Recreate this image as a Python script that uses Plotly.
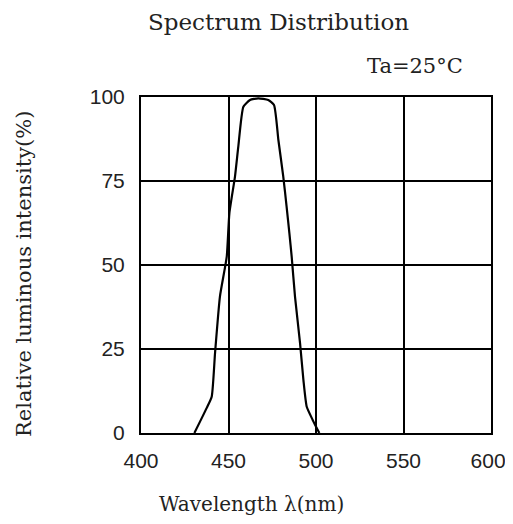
import plotly.graph_objects as go

wavelength = [430.5, 437.5, 440.4, 442.3, 445.1, 449.0, 450.5, 453.7, 455.6, 458.5,
              462.3, 467.0, 472.7, 476.0, 478.5, 481.3, 483.2, 484.8, 486.1, 488.0,
              490.9, 492.8, 494.7, 498.1, 501.9]
intensity = [0.0, 7.4, 10.8, 23.7, 40.6, 52.5, 65.4, 76.3, 85.2, 97.1,
             99.1, 99.6, 99.1, 97.6, 87.2, 76.3, 67.4, 59.4, 52.5, 40.6,
             26.7, 15.8, 7.8, 3.9, 0.0]
x_ticks = [400, 450, 500, 550, 600]
# last label padded so it stays inside the visible page edge
x_tick_labels = ["400", "450", "500", "550", "600\u00a0"]
y_ticks = [0, 25, 50, 75, 100]
y_tick_labels = ["0", "25", "50", "75", "100"]

# page body has an 8px margin
OFF = 8
W, H = 513 - OFF, 524 - 2 * OFF
L, R, T, B = 141 - OFF, 491 - OFF, 97 - OFF, 433 - OFF

fig = go.Figure()
fig.add_trace(go.Scatter(x=wavelength, y=intensity, mode="lines",
                         line=dict(color="black", width=2.2, shape="spline", smoothing=0.5),
                         showlegend=False, hoverinfo="skip"))

tickfont = dict(family="Liberation Sans", size=21, color="#222")
serif = "DejaVu Serif"
fig.update_layout(
    width=W, height=H,
    margin=dict(l=L, r=W - R, t=T, b=H - B, autoexpand=False),
    paper_bgcolor="white", plot_bgcolor="white",
    xaxis=dict(range=[400, 600], tickvals=x_ticks, ticktext=x_tick_labels,
               showgrid=True, gridcolor="black", gridwidth=1.5,
               showline=True, linecolor="black", linewidth=2, mirror=True,
               ticks="", zeroline=False, tickfont=tickfont, ticklabelstandoff=8,
               ticklabeloverflow="allow", fixedrange=True),
    yaxis=dict(range=[0, 100], tickvals=y_ticks, ticktext=y_tick_labels,
               showgrid=True, gridcolor="black", gridwidth=1.5,
               showline=True, linecolor="black", linewidth=2, mirror=True,
               ticks="", zeroline=False, tickfont=tickfont, ticklabelstandoff=10,
               ticklabeloverflow="allow", fixedrange=True),
)

labels = [
    ("Spectrum Distribution", 278, 22, 23, 0),
    ("Ta=25°C", 415, 66, 21, 0),
    ("Wavelength λ(nm)", 251, 504, 20, 0),
    ("Relative luminous intensity(%)", 24, 274, 21, -90),
]
pw, ph = R - L, B - T
for text, px, py, size, ang in labels:
    fig.add_annotation(text=text, xref="paper", yref="paper",
                       x=(px - OFF - L) / pw, y=1 - (py - OFF - T) / ph,
                       xanchor="center", yanchor="middle", showarrow=False,
                       textangle=ang, font=dict(family=serif, size=size, color="#222"))

fig.write_html("out.html")
